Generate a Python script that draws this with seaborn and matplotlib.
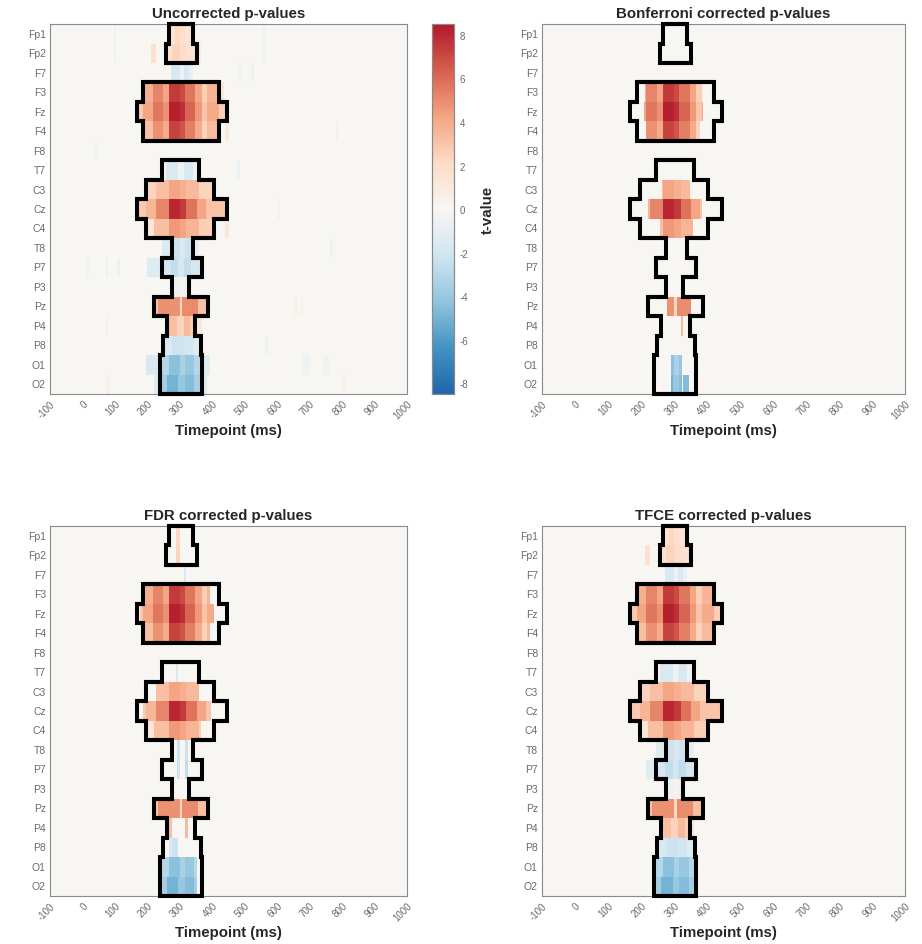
import numpy as np
import pandas as pd
import matplotlib
matplotlib.use("Agg")
import matplotlib.pyplot as plt
import seaborn as sns
from matplotlib.colors import LinearSegmentedColormap
from matplotlib.collections import LineCollection

# ---------------- data ----------------
CHANNELS = ["Fp1", "Fp2", "F7", "F3", "Fz", "F4", "F8", "T7", "C3", "Cz",
            "C4", "T8", "P7", "P3", "Pz", "P4", "P8", "O1", "O2"]
TIME_START, TIME_END, TIME_STEP = -100, 1000, 4
XTICK_MS = list(range(-100, 1001, 100))
CBAR_TICKS = list(range(-8, 9, 2))
T_LIMIT = 8.5
PANEL_TITLES = ["Uncorrected p-values", "Bonferroni corrected p-values",
                "FDR corrected p-values", "TFCE corrected p-values"]

# t-value segments per channel: (start ms, end ms, t-value)
T_FP1 = [(268, 284, 1.5), (284, 300, 2.2), (300, 316, 1.8), (316, 340, 1.4),
         (96, 104, -0.5), (556, 564, -0.5)]
T_FP2 = [(212, 228, 1.6), (256, 276, 1.8), (276, 300, 2.4), (300, 320, 2.0),
         (320, 352, 1.6), (352, 364, 0.8), (96, 104, -0.5), (556, 564, -0.5)]
T_F7 = [(272, 300, -1.6), (300, 312, -0.6), (312, 328, -1.6), (328, 340, -0.8),
        (480, 488, -0.5), (520, 528, -0.5)]
T_F3 = [(188, 216, 3.8), (216, 248, 5.2), (248, 268, 4.2), (268, 300, 7.5),
        (300, 316, 7.0), (316, 348, 5.7), (348, 368, 4.2), (368, 384, 2.6),
        (384, 420, 3.6), (420, 436, 1.2)]
T_FZ = [(168, 188, 2.8), (188, 216, 4.2), (216, 248, 5.7), (248, 268, 4.8),
        (268, 300, 8.3), (300, 316, 7.8), (316, 348, 6.2), (348, 368, 4.6),
        (368, 384, 3.0), (384, 420, 4.0), (420, 444, 2.6)]
T_F4 = [(188, 216, 3.2), (216, 248, 4.8), (248, 268, 4.0), (268, 300, 7.2),
        (300, 316, 6.7), (316, 348, 5.4), (348, 368, 4.0), (368, 384, 2.4),
        (384, 420, 3.4), (440, 452, 1.0), (780, 788, 0.6)]
T_F8 = [(36, 44, -0.5)]
T_T7 = [(256, 296, -1.6), (296, 312, -0.5), (312, 340, -1.6), (340, 360, -0.6),
        (476, 484, -0.6)]
T_C3 = [(196, 228, 2.4), (228, 268, 3.2), (268, 300, 4.2), (300, 320, 3.8),
        (320, 360, 3.4), (360, 404, 2.4)]
T_CZ = [(168, 196, 2.8), (196, 228, 3.6), (228, 268, 5.2), (268, 300, 8.1),
        (300, 320, 7.5), (320, 352, 5.8), (352, 380, 4.2), (380, 444, 3.0),
        (600, 608, 0.5)]
T_C4 = [(196, 220, 1.2), (220, 268, 3.2), (268, 300, 4.6), (300, 320, 4.2),
        (320, 360, 3.6), (360, 404, 2.6), (440, 452, 1.2)]
T_T8 = [(244, 276, -1.4), (276, 300, -2.2), (300, 316, -1.6), (316, 340, -2.2),
        (340, 360, -1.0), (764, 772, -0.5)]
T_P7 = [(200, 244, -1.4), (244, 272, -1.8), (272, 296, -2.6), (296, 312, -1.8),
        (312, 336, -2.6), (336, 368, -1.8), (72, 80, -0.7), (108, 116, -0.6),
        (12, 20, -0.5)]
T_P3 = [(276, 300, -0.6), (300, 312, 0.4), (312, 328, -0.6)]
T_PZ = [(220, 232, 3.0), (232, 300, 4.8), (300, 308, 2.2), (308, 356, 5.0),
        (356, 388, 3.2), (652, 664, 0.5), (672, 680, 0.5)]
T_P4 = [(260, 292, 3.2), (292, 312, 2.4), (312, 332, 3.4), (332, 348, 2.6),
        (348, 368, 1.2), (72, 80, 0.6)]
T_P8 = [(248, 276, -1.6), (276, 312, -2.2), (312, 340, -2.0), (340, 364, -1.4),
        (564, 572, -0.5)]
T_O1 = [(196, 240, -1.6), (240, 268, -3.0), (268, 300, -4.4), (300, 316, -3.4),
        (316, 344, -4.0), (344, 368, -3.0), (368, 392, -1.2), (676, 700, -0.5),
        (740, 760, -0.5)]
T_O2 = [(220, 240, -1.5), (240, 260, -3.6), (260, 296, -5.0), (296, 316, -4.0),
        (316, 344, -4.6), (344, 368, -3.6), (368, 384, -1.4), (72, 84, 0.6),
        (800, 808, 0.4)]

T_SEGMENTS = [T_FP1, T_FP2, T_F7, T_F3, T_FZ, T_F4, T_F8, T_T7, T_C3, T_CZ,
              T_C4, T_T8, T_P7, T_P3, T_PZ, T_P4, T_P8, T_O1, T_O2]

# outlined cluster per channel (ms intervals)
CLUSTER = [[(268, 340)], [(256, 352)], [], [(188, 420)], [(168, 444)],
           [(188, 420)], [], [(244, 360)], [(196, 404)], [(168, 444)],
           [(196, 404)], [(276, 340)], [(244, 368)], [(276, 328)],
           [(220, 388)], [(260, 348)], [(248, 364)], [(240, 368)], [(240, 368)]]

# significant intervals per channel for each correction
BONF_SIG = [[], [], [], [(212, 384)], [(208, 388)], [(216, 380)], [], [],
            [(264, 348)], [(220, 384)], [(256, 356)], [], [], [],
            [(280, 352)], [(320, 328)], [], [(292, 324)],
            [(292, 324), (328, 344)]]
FDR_SIG = [[(288, 300)], [(288, 300)], [(312, 320)], [(188, 392)],
           [(176, 404)], [(188, 392)], [], [(288, 296)], [(228, 360)],
           [(188, 396)], [(200, 364)], [(292, 300), (316, 324)],
           [(292, 300), (316, 324)], [], [(224, 384)],
           [(260, 276), (316, 324)], [(268, 296)], [(244, 352)], [(244, 352)]]
TFCE_SIG = [[(268, 340)], [(212, 240), (256, 352)], [(272, 340)],
            [(188, 420)], [(168, 444)], [(188, 420)], [], [(244, 360)],
            [(196, 404)], [(168, 444)], [(196, 404)], [(244, 360)],
            [(216, 368)], [(276, 328)], [(220, 388)], [(260, 360)],
            [(248, 364)], [(232, 372)], [(232, 372)]]
PANEL_MASKS = [None, BONF_SIG, FDR_SIG, TFCE_SIG]

RDBU9 = ["#2166ac", "#4393c3", "#92c5de", "#d1e5f0", "#f8f6f4",
         "#fddbc7", "#f4a582", "#d6604d", "#b2182b"]

# ---------------- build matrices ----------------
times = np.arange(TIME_START, TIME_END, TIME_STEP)
centers = times + TIME_STEP / 2.0
n_rows, n_cols = len(CHANNELS), len(times)

tmat = np.zeros((n_rows, n_cols))
for r, segs in enumerate(T_SEGMENTS):
    for a, b, v in segs:
        tmat[r, (centers >= a) & (centers < b)] = v


def interval_mask(intervals):
    m = np.zeros((n_rows, n_cols), dtype=bool)
    for r, ivs in enumerate(intervals):
        for a, b in ivs:
            m[r, (centers >= a) & (centers < b)] = True
    return m


def outline_segments(mask):
    pad = np.pad(mask, 1)
    segs = []
    for r in range(mask.shape[0]):
        for c in range(mask.shape[1]):
            if not mask[r, c]:
                continue
            if not pad[r, c + 1]:
                segs.append([(c, r), (c + 1, r)])
            if not pad[r + 2, c + 1]:
                segs.append([(c, r + 1), (c + 1, r + 1)])
            if not pad[r + 1, c]:
                segs.append([(c, r), (c, r + 1)])
            if not pad[r + 1, c + 2]:
                segs.append([(c + 1, r), (c + 1, r + 1)])
    return segs


cluster_mask = interval_mask(CLUSTER)
cluster_segs = outline_segments(cluster_mask)

# ---------------- plotting ----------------
sns.set_style("white")
plt.rcParams["font.family"] = ["Liberation Sans", "DejaVu Sans"]

cmap = LinearSegmentedColormap.from_list("rdbu9", RDBU9, N=256)

fig = plt.figure(figsize=(9.22, 9.45), dpi=100)
AX_POS = [[0.0542, 0.582, 0.3872, 0.3915], [0.5879, 0.582, 0.3937, 0.3915],
          [0.0542, 0.0508, 0.3872, 0.3915], [0.5879, 0.0508, 0.3937, 0.3915]]
cax = fig.add_axes([0.4685, 0.582, 0.0239, 0.3915])

tick_pos = [(t - TIME_START) / TIME_STEP for t in XTICK_MS]
grey = "#6a6a6a"

for i, pos in enumerate(AX_POS):
    ax = fig.add_axes(pos)
    if PANEL_MASKS[i] is None:
        vals = tmat
    else:
        vals = np.where(interval_mask(PANEL_MASKS[i]), tmat, 0.0)
    df = pd.DataFrame(vals, index=CHANNELS, columns=times)
    sns.heatmap(df, ax=ax, cmap=cmap, vmin=-T_LIMIT, vmax=T_LIMIT,
                cbar=(i == 0), cbar_ax=cax if i == 0 else None,
                xticklabels=False, yticklabels=CHANNELS, rasterized=True)
    lc = LineCollection(cluster_segs, colors="black", linewidths=2.9,
                        capstyle="projecting", zorder=5, clip_on=False)
    ax.add_collection(lc)
    ax.set_xticks(tick_pos)
    ax.set_xticklabels([str(t) for t in XTICK_MS], rotation=45, ha="right",
                       rotation_mode="anchor", fontsize=7, color=grey)
    ax.set_yticks(np.arange(n_rows) + 0.5)
    ax.set_yticklabels(CHANNELS, rotation=0, fontsize=7.5, color=grey)
    ax.tick_params(axis="both", length=0, pad=3)
    for s in ax.spines.values():
        s.set_visible(True)
        s.set_color("#8a8a8a")
        s.set_linewidth(0.8)
    ax.set_title(PANEL_TITLES[i], fontsize=10.8, fontweight="bold", pad=5)
    ax.set_xlabel("Timepoint (ms)", fontsize=10.8, fontweight="bold",
                  labelpad=2)
    ax.set_ylabel("")

cax.set_yticks(CBAR_TICKS)
cax.set_yticklabels([str(t) for t in CBAR_TICKS], fontsize=7, color=grey)
cax.tick_params(axis="y", direction="in", length=3, color=grey, pad=4)
for s in cax.spines.values():
    s.set_visible(True)
    s.set_color("#8a8a8a")
    s.set_linewidth(0.8)
cax.set_ylabel("t-value", fontsize=10.8, fontweight="bold", labelpad=9)

fig.savefig("out.png", dpi=100)
